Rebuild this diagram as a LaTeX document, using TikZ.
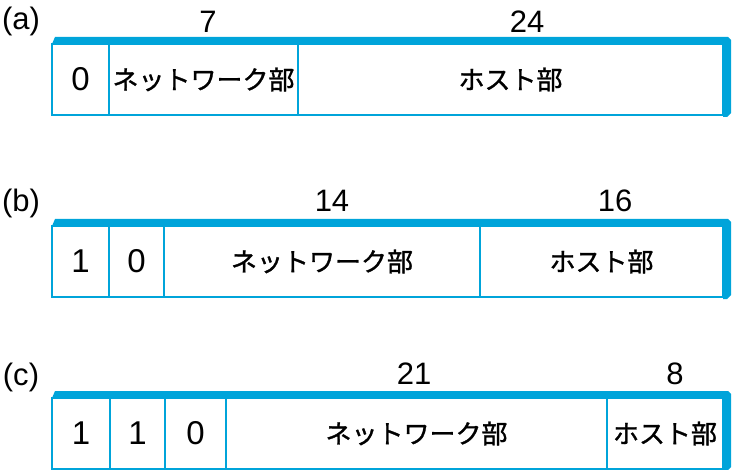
\documentclass[tikz,border=0pt]{standalone}
\usepackage{fontspec}
\setmainfont{Liberation Sans}
\newfontfamily\jpfont[FakeBold=1.2]{Noto Sans CJK JP}
\definecolor{netblue}{RGB}{0,164,218}

\begin{document}
\begin{tikzpicture}[x=1pt,y=-1pt,
  cell/.style={draw=netblue,line width=2pt},
  bit/.style={font=\fontsize{33}{33}\selectfont},
  part/.style={font=\jpfont\fontsize{26}{26}\selectfont},
  width/.style={font=\fontsize{31}{31}\selectfont},
  tag/.style={font=\fontsize{31}{31}\selectfont}]
\useasboundingbox (0,0) rectangle (733,470);

% ---- (a) : 0 + 7 + 24
\node[tag] (taga) at (21,21) {(a)};
\fill[netblue] (52,44) -- (55,37) -- (728,37) -- (731,40) -- (731,113) -- (727,117) -- (723,117) -- (723,44) -- cycle; % top and right edge
\draw[cell] (52,44) rectangle node[bit] (a0) {0} (109,115);
\draw[cell] (109,44) rectangle node[part] (anet) {ネットワーク部} (298,115);
\draw[cell] (298,44) rectangle node[part] (ahost) {ホスト部} (723,115);
\node[width] (anetw) at (208,22) {7};
\node[width] (ahostw) at (527,22) {24};

% ---- (b) : 1 0 + 14 + 16
\node[tag] (tagb) at (21,203) {(b)};
\fill[netblue] (52,226) -- (55,219) -- (728,219) -- (731,222) -- (731,295) -- (727,299) -- (723,299) -- (723,226) -- cycle;
\draw[cell] (52,226) rectangle node[bit] (b1) {1} (109,297);
\draw[cell] (109,226) rectangle node[bit] (b0) {0} (164,297);
\draw[cell] (164,226) rectangle node[part] (bnet) {ネットワーク部} (480,297);
\draw[cell] (480,226) rectangle node[part] (bhost) {ホスト部} (723,297);
\node[width] (bnetw) at (332,201) {14};
\node[width] (bhostw) at (615,201) {16};

% ---- (c) : 1 1 0 + 21 + 8
\node[tag] (tagc) at (21,377) {(c)};
\fill[netblue] (52,398) -- (55,391) -- (728,391) -- (731,394) -- (731,467) -- (727,471) -- (723,471) -- (723,398) -- cycle;
\draw[cell] (52,398) rectangle node[bit] (c1) {1} (110,469);
\draw[cell] (110,398) rectangle node[bit] (c2) {1} (165,469);
\draw[cell] (165,398) rectangle node[bit] (c0) {0} (226,469);
\draw[cell] (226,398) rectangle node[part] (cnet) {ネットワーク部} (607,469);
\draw[cell] (607,398) rectangle node[part] (chost) {ホスト部} (723,469);
\node[width] (cnetw) at (414,374) {21};
\node[width] (chostw) at (675,374) {8};

\end{tikzpicture}
\end{document}
